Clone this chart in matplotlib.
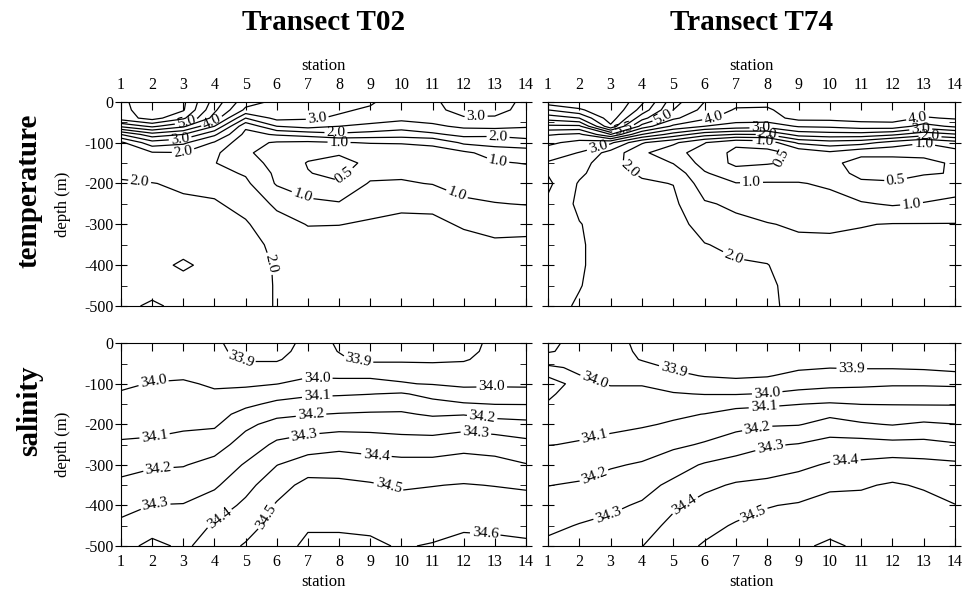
import numpy as np
import matplotlib.pyplot as plt

plt.rcParams['font.family'] = ['Liberation Serif', 'DejaVu Serif']
plt.rcParams['axes.unicode_minus'] = False

STATIONS = list(range(1, 15))
DEPTHS = [0, 20, 40, 60, 80, 100, 125, 150, 175, 200, 250, 300, 350, 400, 450, 500]

# one profile per station, values at DEPTHS (surface -> 500 m)
TEMP_T02 = [
    [5.9, 5.85, 5.75, 4.6, 3.0, 1.9, 1.7, 1.65, 1.85, 2.1, 2.2, 2.25, 2.25, 2.2, 2.2, 2.2],
    [6.3, 6.3, 6.2, 5.1, 3.8, 2.8, 1.95, 1.7, 1.75, 2.02, 2.2, 2.25, 2.25, 2.25, 2.3, 1.88],
    [6.1, 6.05, 5.6, 4.6, 3.5, 2.6, 1.98, 1.75, 1.75, 1.9, 2.1, 2.2, 2.3, 1.88, 2.3, 2.2],
    [4.8, 4.6, 4.3, 3.5, 2.6, 1.95, 1.6, 1.52, 1.65, 1.85, 2.05, 2.15, 2.2, 2.25, 2.2, 2.2],
    [3.7, 3.4, 2.5, 1.6, 1.35, 1.15, 1.05, 1.2, 1.45, 1.6, 1.85, 2.05, 2.15, 2.2, 2.2, 2.2],
    [3.4, 3.35, 3.15, 2.5, 1.55, 0.95, 0.85, 0.85, 0.9, 0.95, 1.4, 1.7, 1.9, 1.96, 1.97, 1.97],
    [3.3, 3.25, 3.05, 2.7, 1.7, 0.9, 0.65, 0.47, 0.52, 0.75, 1.1, 1.48, 1.7, 1.8, 1.85, 1.85],
    [3.1, 3.05, 2.95, 2.5, 1.9, 0.98, 0.55, 0.35, 0.38, 0.55, 1.05, 1.49, 1.7, 1.8, 1.85, 1.85],
    [3.05, 2.95, 2.7, 2.4, 1.8, 1.02, 0.75, 0.6, 0.85, 1.05, 1.35, 1.55, 1.7, 1.8, 1.85, 1.85],
    [2.8, 2.75, 2.65, 2.2, 1.75, 1.02, 0.85, 0.8, 0.92, 1.05, 1.42, 1.6, 1.7, 1.8, 1.85, 1.85],
    [2.9, 2.85, 2.7, 2.4, 1.9, 1.05, 0.9, 0.8, 0.85, 0.98, 1.4, 1.6, 1.7, 1.8, 1.85, 1.85],
    [3.3, 3.2, 2.95, 2.6, 2.15, 1.6, 0.9, 0.75, 0.7, 0.8, 1.1, 1.45, 1.65, 1.75, 1.8, 1.85],
    [3.2, 3.15, 2.95, 2.65, 2.1, 1.7, 1.2, 0.95, 0.8, 0.75, 1.02, 1.3, 1.6, 1.7, 1.8, 1.85],
    [2.9, 2.85, 2.7, 2.55, 2.2, 1.8, 1.25, 1.02, 0.85, 0.8, 0.98, 1.35, 1.6, 1.7, 1.8, 1.85],
]

TEMP_T74 = [
    [7.3, 6.5, 5.7, 4.9, 4.05, 3.6, 3.25, 2.95, 2.97, 3.1, 2.9, 2.8, 2.75, 2.7, 2.7, 2.65],
    [7.5, 6.9, 6.0, 4.9, 3.9, 3.35, 2.98, 2.75, 2.6, 2.45, 2.4, 2.52, 2.55, 2.55, 2.52, 2.45],
    [7.6, 7.5, 7.3, 6.9, 5.0, 3.1, 2.3, 2.1, 2.15, 2.2, 2.3, 2.3, 2.3, 2.3, 2.3, 2.3],
    [6.6, 6.3, 5.7, 4.8, 3.5, 2.05, 1.6, 1.85, 1.95, 2.05, 2.2, 2.3, 2.3, 2.3, 2.3, 2.3],
    [5.2, 5.0, 4.6, 3.9, 2.8, 1.6, 1.15, 1.48, 1.8, 1.99, 2.1, 2.2, 2.3, 2.3, 2.3, 2.3],
    [4.5, 4.35, 4.1, 3.5, 2.2, 1.02, 0.8, 0.8, 1.05, 1.25, 1.55, 1.8, 2.02, 2.15, 2.2, 2.2],
    [4.15, 3.95, 3.75, 3.3, 1.98, 0.6, 0.38, 0.4, 0.7, 1.02, 1.42, 1.6, 1.9, 2.05, 2.15, 2.2],
    [4.1, 3.95, 3.8, 3.2, 2.02, 0.7, 0.38, 0.45, 0.85, 1.02, 1.3, 1.52, 1.75, 2.02, 2.1, 2.1],
    [4.3, 4.2, 4.15, 3.55, 2.7, 1.6, 0.6, 0.6, 0.85, 1.02, 1.25, 1.45, 1.58, 1.7, 1.8, 1.85],
    [4.4, 4.3, 4.15, 3.6, 2.8, 1.8, 0.9, 0.6, 0.75, 0.95, 1.12, 1.42, 1.6, 1.75, 1.8, 1.85],
    [4.4, 4.3, 4.2, 3.75, 2.8, 1.7, 0.6, 0.35, 0.35, 0.6, 1.05, 1.48, 1.6, 1.75, 1.8, 1.85],
    [4.4, 4.35, 4.2, 3.8, 2.6, 1.3, 0.6, 0.35, 0.35, 0.55, 0.95, 1.52, 1.62, 1.75, 1.8, 1.85],
    [4.35, 4.25, 3.95, 3.3, 2.2, 1.03, 0.6, 0.4, 0.45, 0.75, 1.02, 1.52, 1.6, 1.7, 1.8, 1.85],
    [4.3, 4.2, 4.05, 3.6, 2.45, 1.3, 0.8, 0.55, 0.53, 0.8, 1.1, 1.52, 1.65, 1.75, 1.8, 1.85],
]

SAL_T02 = [
    [33.95, 33.95, 33.96, 33.97, 33.98, 33.99, 34.005, 34.03, 34.05, 34.07, 34.11, 34.17, 34.22, 34.27, 34.32, 34.36],
    [33.95, 33.95, 33.96, 33.97, 33.99, 34.003, 34.02, 34.04, 34.06, 34.075, 34.115, 34.19, 34.24, 34.302, 34.35, 34.43],
    [33.95, 33.95, 33.96, 33.97, 33.99, 34.01, 34.03, 34.05, 34.065, 34.08, 34.14, 34.195, 34.25, 34.305, 34.35, 34.38],
    [33.92, 33.93, 33.95, 33.96, 33.975, 33.99, 34.01, 34.04, 34.065, 34.085, 34.16, 34.23, 34.285, 34.35, 34.41, 34.45],
    [33.85, 33.86, 33.89, 33.93, 33.96, 33.985, 34.03, 34.08, 34.13, 34.18, 34.24, 34.31, 34.37, 34.42, 34.46, 34.51],
    [33.87, 33.875, 33.89, 33.93, 33.96, 33.998, 34.065, 34.12, 34.18, 34.23, 34.32, 34.398, 34.46, 34.51, 34.54, 34.56],
    [33.92, 33.93, 33.95, 33.97, 33.99, 34.03, 34.085, 34.14, 34.195, 34.25, 34.35, 34.45, 34.53, 34.56, 34.59, 34.62],
    [33.895, 33.898, 33.91, 33.95, 33.985, 34.03, 34.09, 34.15, 34.205, 34.26, 34.37, 34.46, 34.52, 34.56, 34.59, 34.62],
    [33.86, 33.865, 33.88, 33.94, 33.985, 34.03, 34.098, 34.16, 34.21, 34.26, 34.36, 34.44, 34.51, 34.55, 34.59, 34.61],
    [33.86, 33.865, 33.88, 33.94, 33.985, 34.005, 34.11, 34.17, 34.21, 34.25, 34.35, 34.43, 34.49, 34.53, 34.56, 34.595],
    [33.86, 33.865, 33.88, 33.93, 33.97, 33.995, 34.07, 34.13, 34.19, 34.24, 34.35, 34.43, 34.497, 34.54, 34.575, 34.605],
    [33.87, 33.875, 33.89, 33.93, 33.96, 33.985, 34.03, 34.11, 34.195, 34.26, 34.37, 34.44, 34.505, 34.55, 34.59, 34.62],
    [33.92, 33.925, 33.94, 33.955, 33.97, 33.985, 34.035, 34.098, 34.17, 34.24, 34.36, 34.43, 34.497, 34.545, 34.585, 34.62],
    [33.93, 33.935, 33.945, 33.955, 33.97, 33.985, 34.03, 34.097, 34.16, 34.23, 34.33, 34.405, 34.49, 34.53, 34.575, 34.615],
]

SAL_T74 = [
    [33.88, 33.89, 33.96, 34.015, 34.003, 33.985, 33.99, 34.005, 34.03, 34.05, 34.098, 34.15, 34.198, 34.24, 34.28, 34.32],
    [33.93, 33.935, 33.95, 33.985, 34.002, 34.012, 34.03, 34.05, 34.065, 34.08, 34.105, 34.16, 34.21, 34.26, 34.305, 34.34],
    [33.93, 33.935, 33.94, 33.96, 33.98, 33.995, 34.02, 34.04, 34.06, 34.08, 34.125, 34.19, 34.24, 34.285, 34.32, 34.36],
    [33.88, 33.885, 33.895, 33.93, 33.97, 33.995, 34.02, 34.04, 34.065, 34.09, 34.15, 34.21, 34.27, 34.31, 34.36, 34.398],
    [33.86, 33.865, 33.875, 33.89, 33.92, 33.97, 34.005, 34.05, 34.085, 34.11, 34.18, 34.26, 34.32, 34.385, 34.425, 34.46],
    [33.85, 33.855, 33.86, 33.875, 33.895, 33.94, 33.997, 34.05, 34.102, 34.14, 34.21, 34.31, 34.38, 34.43, 34.47, 34.51],
    [33.84, 33.845, 33.855, 33.87, 33.89, 33.92, 33.995, 34.08, 34.125, 34.17, 34.25, 34.34, 34.41, 34.46, 34.51, 34.54],
    [33.84, 33.845, 33.855, 33.87, 33.895, 33.93, 34.005, 34.085, 34.14, 34.19, 34.29, 34.36, 34.42, 34.495, 34.53, 34.56],
    [33.845, 33.85, 33.865, 33.89, 33.92, 33.97, 34.02, 34.098, 34.15, 34.195, 34.305, 34.38, 34.44, 34.51, 34.55, 34.58],
    [33.85, 33.86, 33.875, 33.898, 33.93, 33.98, 34.03, 34.11, 34.185, 34.23, 34.34, 34.41, 34.49, 34.52, 34.56, 34.62],
    [33.85, 33.86, 33.875, 33.895, 33.93, 33.985, 34.03, 34.098, 34.16, 34.21, 34.34, 34.42, 34.49, 34.53, 34.56, 34.58],
    [33.85, 33.86, 33.875, 33.895, 33.93, 33.99, 34.04, 34.097, 34.14, 34.195, 34.33, 34.44, 34.51, 34.54, 34.56, 34.58],
    [33.855, 33.86, 33.87, 33.89, 33.93, 33.99, 34.04, 34.095, 34.15, 34.215, 34.33, 34.43, 34.49, 34.53, 34.56, 34.58],
    [33.86, 33.865, 33.875, 33.89, 33.91, 33.985, 34.04, 34.095, 34.14, 34.202, 34.31, 34.42, 34.47, 34.502, 34.54, 34.56],
]

TEMP_LEVELS_T02 = [0.5, 1.0, 1.5, 2.0, 2.5, 3.0, 3.5, 4.0, 4.5, 5.0, 5.5, 6.0]
TEMP_LEVELS_T74 = [0.5, 1.0, 1.5, 2.0, 2.5, 3.0, 3.5, 4.0, 4.5, 5.0, 5.5, 6.0, 6.5, 7.0]
SAL_LEVELS = [33.9, 34.0, 34.1, 34.2, 34.3, 34.4, 34.5, 34.6]

# where the labels sit on the lines (station, depth)
LAB_T02 = [(3.1, -52), (3.9, -45), (2.9, -89), (3.0, -125), (1.6, -195), (5.85, -395),
           (6.8, -235), (8.1, -175), (11.8, -223), (7.3, -40), (7.9, -78), (8.0, -98),
           (12.4, -40), (13.1, -90), (13.1, -143)]
LAB_T74 = [(3.4, -65), (4.7, -40), (6.3, -45), (2.6, -113), (3.6, -165), (7.8, -62),
           (8.0, -80), (7.9, -96), (8.4, -134), (7.5, -203), (6.9, -382), (12.8, -40),
           (12.9, -64), (13.2, -84), (13.0, -101), (12.1, -191), (12.6, -240)]
LAB_S02 = [(4.8, -49), (8.6, -49), (2.05, -107), (7.3, -88), (12.9, -111), (7.3, -132),
           (2.1, -238), (7.1, -177), (12.6, -177), (2.2, -312), (6.9, -234), (12.4, -214),
           (2.1, -403), (9.2, -275), (4.2, -436), (9.6, -350), (5.7, -428), (12.7, -460)]
LAB_S74 = [(2.5, -90), (5.0, -70), (10.7, -66), (8.0, -123), (2.5, -238), (7.9, -160),
           (2.5, -333), (7.7, -218), (2.9, -419), (8.1, -259), (5.4, -403), (10.5, -292),
           (7.5, -411)]


def draw_panel(ax, field, levels, labels, top, left):
    z = np.array(field).T
    depth = -np.array(DEPTHS)
    cs = ax.contour(STATIONS, depth, z, levels=levels, colors='k', linewidths=0.9)
    ax.clabel(cs, fmt='%.1f', fontsize=11, inline=True, inline_spacing=2, manual=labels)

    ax.set_xlim(1, 14)
    ax.set_ylim(-500, 0)
    ax.set_xticks(STATIONS)
    ax.set_yticks(range(-500, 1, 100))
    ax.set_yticks(range(-450, 0, 100), minor=True)
    ax.tick_params(which='major', axis='x', direction='in', length=6, top=True, bottom=True,
                   labeltop=top, labelbottom=not top, labelsize=11.5,
                   pad=6 if top else 5.5)
    ax.tick_params(which='major', axis='y', direction='inout', length=9, left=True, right=True,
                   labelleft=left, labelsize=11.5, pad=1)
    ax.tick_params(which='minor', axis='y', direction='in', length=4, left=True, right=True)
    ax.xaxis.set_label_position('top' if top else 'bottom')
    ax.set_xlabel('station', fontsize=12, labelpad=5 if top else 3)
    if left:
        ax.set_ylabel('depth (m)', fontsize=12, labelpad=9)


fig = plt.figure(figsize=(9.71, 5.95), dpi=100)

ax_tl = fig.add_axes([0.1246, 0.4857, 0.4171, 0.3433])
ax_tr = fig.add_axes([0.5644, 0.4857, 0.4192, 0.3433])
ax_bl = fig.add_axes([0.1246, 0.0824, 0.4171, 0.3407])
ax_br = fig.add_axes([0.5644, 0.0824, 0.4192, 0.3407])

draw_panel(ax_tl, TEMP_T02, TEMP_LEVELS_T02, LAB_T02, True, True)
draw_panel(ax_tr, TEMP_T74, TEMP_LEVELS_T74, LAB_T74, True, False)
draw_panel(ax_bl, SAL_T02, SAL_LEVELS, LAB_S02, False, True)
draw_panel(ax_br, SAL_T74, SAL_LEVELS, LAB_S74, False, False)

fig.text(0.333, 0.963, 'Transect T02', fontsize=21, fontweight='bold', ha='center', va='center')
fig.text(0.774, 0.963, 'Transect T74', fontsize=21, fontweight='bold', ha='center', va='center')
fig.text(0.03, 0.68, 'temperature', fontsize=21, fontweight='bold', rotation=90,
         ha='center', va='center')
fig.text(0.03, 0.31, 'salinity', fontsize=21, fontweight='bold', rotation=90,
         ha='center', va='center')

fig.savefig('out.png', dpi=100)
